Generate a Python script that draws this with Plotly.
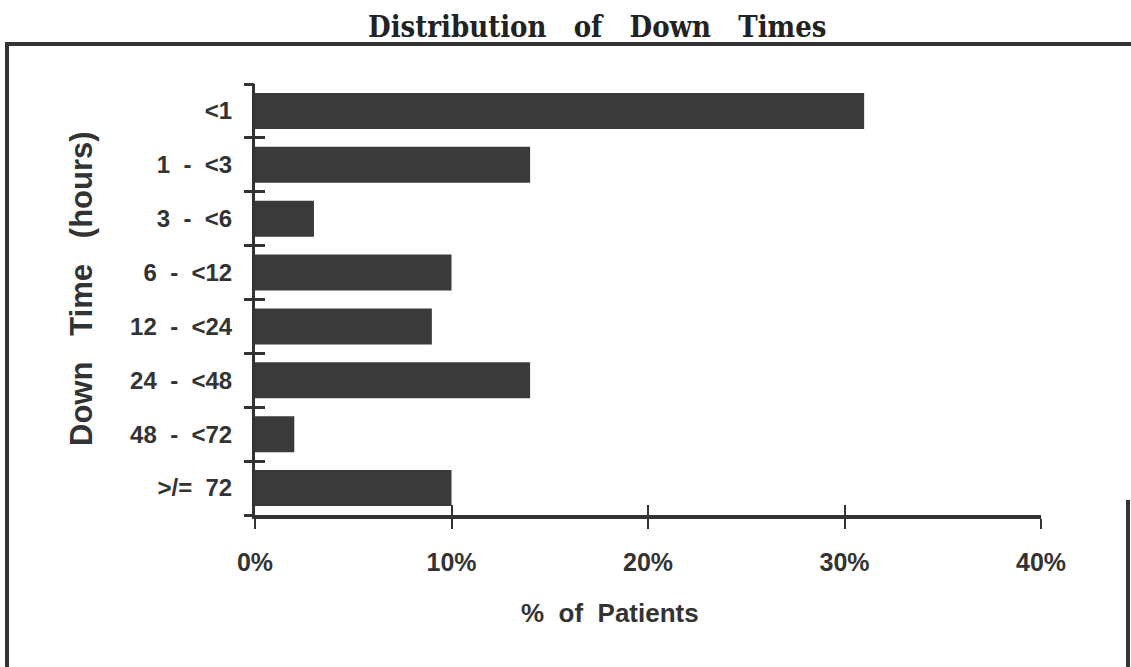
import plotly.graph_objects as go

categories = ["<1", "1  -  <3", "3  -  <6", "6  -  <12", "12  -  <24", "24  -  <48", "48  -  <72", ">/=  72"]
percent_patients = [31, 14, 3, 10, 9, 14, 2, 10]
x_ticks = [0, 10, 20, 30, 40]
x_tick_labels = ["0%", "10%", "20%", "30%", "40%"]

W, H = 1131, 667
L, R, T, B = 255, 90, 84, 152
pw, ph = W - L - R, H - T - B

def px(x):
    return (x - L) / pw

def py(y):
    return (H - B - y) / ph

INK = "#333333"
SANS = "Liberation Sans, Arial, sans-serif"

fig = go.Figure()
fig.add_trace(go.Bar(
    x=percent_patients, y=categories, orientation="h",
    marker=dict(color="#3a3a3a", line=dict(width=0)),
    showlegend=False, hoverinfo="skip",
))

n = len(categories)
bounds = [i - 0.5 for i in range(n + 1)]

fig.update_layout(
    width=W, height=H,
    margin=dict(l=L, r=R, t=T, b=B),
    paper_bgcolor="white", plot_bgcolor="white",
    bargap=0.33,
    xaxis=dict(
        range=[0, 40], tickvals=x_ticks, ticktext=x_tick_labels,
        showgrid=False, zeroline=False,
        showline=True, linecolor=INK, linewidth=4,
        ticks="outside", ticklen=10, tickwidth=2, tickcolor=INK,
        tickfont=dict(family=SANS, size=25, color=INK, weight="bold"),
        ticklabelstandoff=12,
        fixedrange=True,
    ),
    xaxis2=dict(
        range=[0, 40], tickvals=x_ticks, overlaying="x", anchor="y",
        side="bottom", showgrid=False, zeroline=False, showline=False,
        ticks="inside", ticklen=10, tickwidth=2, tickcolor=INK,
        showticklabels=False,
    ),
    yaxis=dict(
        type="category", categoryarray=categories, autorange=False,
        range=[n - 0.5, -0.5],
        showgrid=False, zeroline=False,
        showline=True, linecolor=INK, linewidth=3,
        ticks="",
        tickfont=dict(family=SANS, size=24, color=INK, weight="bold"),
        ticklabelstandoff=15,
    ),
    yaxis2=dict(
        range=[n - 0.5, -0.5], tickvals=bounds, overlaying="y", anchor="x",
        side="left", showgrid=False, zeroline=False, showline=False,
        ticks="outside", ticklen=10, tickwidth=3, tickcolor=INK,
        showticklabels=False,
    ),
    yaxis3=dict(
        range=[n - 0.5, -0.5], tickvals=bounds, overlaying="y", anchor="x",
        side="left", showgrid=False, zeroline=False, showline=False,
        ticks="inside", ticklen=10, tickwidth=3, tickcolor=INK,
        showticklabels=False,
    ),
)

# invisible traces to activate overlay axes
fig.add_trace(go.Scatter(x=[None], y=[None], xaxis="x2", yaxis="y2", showlegend=False, hoverinfo="skip"))
fig.add_trace(go.Scatter(x=[None], y=[None], xaxis="x", yaxis="y3", showlegend=False, hoverinfo="skip"))

sp3 = "\u00a0\u00a0\u00a0"
fig.add_annotation(
    text=f"Distribution{sp3}of{sp3}Down{sp3}Times",
    xref="paper", yref="paper", x=px(597), y=py(27),
    xanchor="center", yanchor="middle", showarrow=False,
    font=dict(family="DejaVu Serif Condensed, DejaVu Serif, serif", size=29, color="#222222", weight="bold"),
)
fig.add_annotation(
    text="%\u00a0\u00a0of\u00a0\u00a0Patients",
    xref="paper", yref="paper", x=px(610), y=py(613),
    xanchor="center", yanchor="middle", showarrow=False,
    font=dict(family=SANS, size=26, color=INK, weight="bold"),
)
fig.add_annotation(
    text=f"Down{sp3}Time{sp3}(hours)",
    xref="paper", yref="paper", x=px(81), y=py(289),
    xanchor="center", yanchor="middle", showarrow=False, textangle=-90,
    font=dict(family=SANS, size=31, color=INK, weight="bold"),
)

# frame around the chart
frame_path = (
    f"M {px(1131)},{py(44)} L {px(7)},{py(44)} L {px(7)},{py(680)} "
    f"M {px(1128)},{py(500)} L {px(1128)},{py(680)}"
)
fig.add_shape(type="path", path=frame_path, xref="paper", yref="paper",
              line=dict(color=INK, width=4))

fig.write_html(
    "out.html",
    config={"displayModeBar": False},
    post_script="document.body.style.margin='0';document.body.style.overflow='hidden';",
)
